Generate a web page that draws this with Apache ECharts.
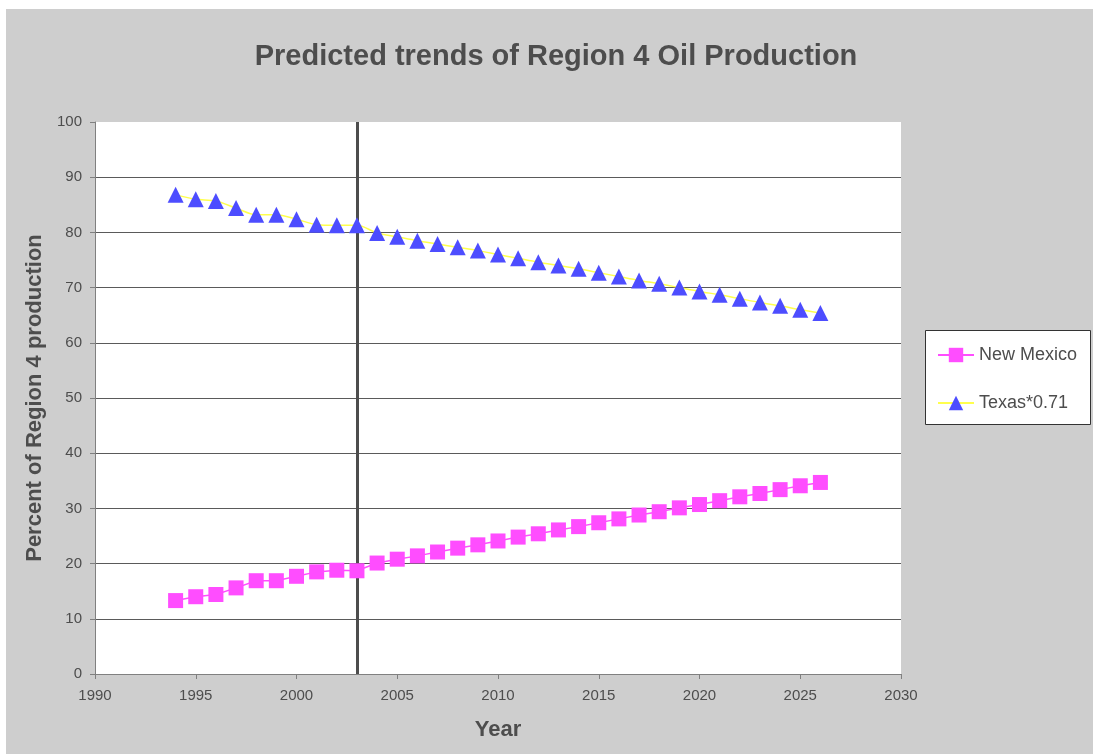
<!DOCTYPE html>
<html>
<head>
<meta charset="utf-8">
<script src="https://cdn.jsdelivr.net/npm/echarts@6/dist/echarts.min.js"></script>
<style>
  html, body { margin: 0; padding: 0; background: #ffffff; }
  #chart { position: absolute; left: 6px; top: 9px; width: 1087px; height: 745px; }
</style>
</head>
<body>
<div id="chart"></div>
<script>
// Share of Region 4 oil production by year
const years = [1994, 1995, 1996, 1997, 1998, 1999, 2000, 2001, 2002, 2003, 2004,
  2005, 2006, 2007, 2008, 2009, 2010, 2011, 2012, 2013, 2014, 2015, 2016, 2017,
  2018, 2019, 2020, 2021, 2022, 2023, 2024, 2025, 2026];
const newMexico = [13.3, 14.0, 14.4, 15.6, 16.9, 16.9, 17.7, 18.5, 18.8, 18.7, 20.1,
  20.8, 21.4, 22.1, 22.8, 23.4, 24.1, 24.8, 25.4, 26.1, 26.7, 27.4, 28.1, 28.8,
  29.4, 30.1, 30.7, 31.4, 32.1, 32.7, 33.4, 34.1, 34.7];
const texas = [86.8, 86.0, 85.7, 84.4, 83.2, 83.2, 82.4, 81.4, 81.3, 81.3, 79.9,
  79.2, 78.5, 77.9, 77.3, 76.7, 76.0, 75.3, 74.6, 74.0, 73.4, 72.7, 72.0, 71.3,
  70.7, 70.0, 69.3, 68.7, 68.0, 67.3, 66.7, 66.0, 65.4];
const seriesNames = ['New Mexico', 'Texas*0.71'];
const dividerYear = 2003;

const FONT = "'Liberation Sans', Arial, sans-serif";
const TEXT = '#4d4d4d';

const pairs = vals => years.map((y, i) => [y, vals[i]]);

const chart = echarts.init(document.getElementById('chart'), null, { renderer: 'canvas' });
chart.setOption({
  backgroundColor: '#cecece',
  animation: false,
  textStyle: { fontFamily: FONT },
  title: {
    text: 'Predicted trends of Region 4 Oil Production',
    left: 545, top: 28, textAlign: 'center',
    textStyle: { fontFamily: FONT, fontSize: 29, fontWeight: 'bold', color: TEXT }
  },
  grid: {
    left: 89, top: 113, right: 192, bottom: 80,
    show: true, backgroundColor: '#ffffff', borderWidth: 0
  },
  graphic: [{
    type: 'rect', left: 919, top: 321, z: 0,
    shape: { width: 165, height: 94 },
    style: { fill: '#ffffff', stroke: '#333333', lineWidth: 1 }
  }],
  legend: {
    orient: 'vertical', left: 931, top: 337, padding: 0,
    itemWidth: 36, itemHeight: 18, itemGap: 30,
    data: seriesNames,
    textStyle: { fontFamily: FONT, fontSize: 18, color: TEXT },
    z: 5
  },
  xAxis: {
    type: 'value', min: 1990, max: 2030, interval: 5,
    name: 'Year', nameLocation: 'middle', nameGap: 45,
    nameTextStyle: { fontFamily: FONT, fontSize: 22, fontWeight: 'bold', color: TEXT },
    axisLine: { show: true, onZero: false, lineStyle: { color: '#808080', width: 1 } },
    axisTick: { show: true, inside: false, length: 5, lineStyle: { color: '#808080' } },
    axisLabel: { fontFamily: FONT, fontSize: 15, color: TEXT, margin: 14,
      formatter: v => String(v) },
    splitLine: { show: false }
  },
  yAxis: {
    type: 'value', min: 0, max: 100, interval: 10,
    name: 'Percent of Region 4 production', nameLocation: 'middle', nameGap: 49,
    nameTextStyle: { fontFamily: FONT, fontSize: 22, fontWeight: 'bold', color: TEXT },
    axisLine: { show: true, lineStyle: { color: '#808080', width: 1 } },
    axisTick: { show: true, inside: false, length: 5, lineStyle: { color: '#808080' } },
    axisLabel: { fontFamily: FONT, fontSize: 15, color: TEXT, margin: 13 },
    splitLine: { show: true, showMaxLine: false, lineStyle: { color: '#5a5a5a', width: 1 } }
  },
  series: [
    {
      name: seriesNames[0], type: 'line', data: pairs(newMexico),
      symbol: 'rect', symbolSize: 15,
      lineStyle: { color: '#ff4dff', width: 1.5 },
      itemStyle: { color: '#ff4dff' },
      z: 3,
      markLine: {
        silent: true, symbol: ['none', 'none'], animation: false,
        label: { show: false },
        lineStyle: { color: '#4d4d4d', width: 3, type: 'solid' },
        data: [{ xAxis: dividerYear }],
        z: 2
      }
    },
    {
      name: seriesNames[1], type: 'line', data: pairs(texas),
      symbol: 'triangle', symbolSize: 16, smooth: 0.3,
      lineStyle: { color: '#ffff4d', width: 1.5 },
      itemStyle: { color: '#4d4dff' },
      z: 3
    }
  ]
});
</script>
</body>
</html>
